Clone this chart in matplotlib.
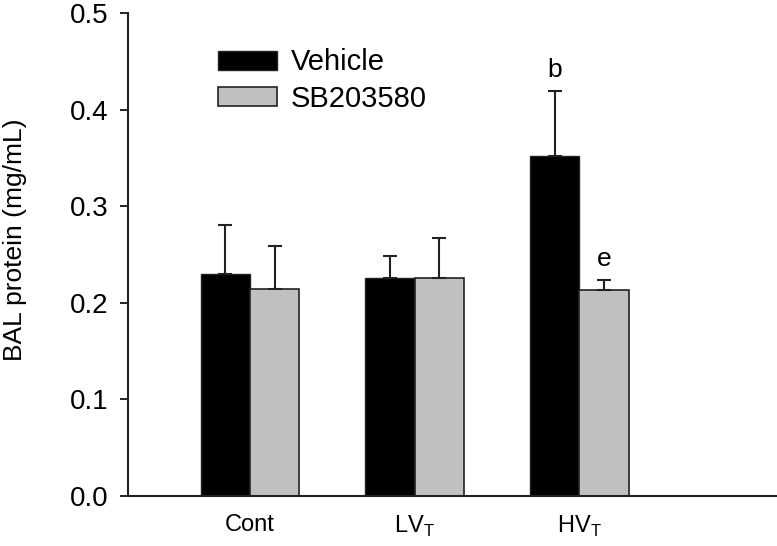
import numpy as np
import matplotlib
matplotlib.use("Agg")
import matplotlib.pyplot as plt

plt.rcParams['font.family'] = ['Liberation Sans', 'DejaVu Sans']
plt.rcParams['mathtext.fontset'] = 'custom'
plt.rcParams['mathtext.rm'] = 'Liberation Sans'

# Gruppen und Messwerte (BAL protein, mg/mL)
groups = ['Cont', r'LV$_\mathregular{T}$', r'HV$_\mathregular{T}$']
vehicle = [0.230, 0.226, 0.352]
vehicle_err = [0.051, 0.022, 0.067]
sb = [0.214, 0.226, 0.213]
sb_err = [0.045, 0.041, 0.010]
series_names = ['Vehicle', 'SB203580']
# Signifikanz-Buchstaben: (Gruppe, Serie, Text)
marks = [(2, 0, 'b'), (2, 1, 'e')]

fig = plt.figure(figsize=(7.77, 5.46), dpi=100)
ax = fig.add_axes([0.165, 0.092, 0.835, 0.884])

x = np.arange(len(groups))
w = 0.30
ax.bar(x - w / 2, vehicle, w, color='black', edgecolor='#222222',
       linewidth=1.0, label=series_names[0])
ax.bar(x + w / 2, sb, w, color='#c0c0c0', edgecolor='#222222',
       linewidth=1.2, label=series_names[1])
ax.errorbar(x - w / 2, vehicle, yerr=[np.zeros(3), vehicle_err], fmt='none',
            ecolor='#222222', elinewidth=1.5, capsize=5, capthick=1.5)
ax.errorbar(x + w / 2, sb, yerr=[np.zeros(3), sb_err], fmt='none',
            ecolor='#222222', elinewidth=1.5, capsize=5, capthick=1.5)

tops = [np.array(vehicle) + np.array(vehicle_err), np.array(sb) + np.array(sb_err)]
for g, s, txt in marks:
    xx = x[g] + (s - 0.5) * w
    ax.text(xx, tops[s][g] + 0.01, txt, ha='center', va='bottom', fontsize=19)

ax.set_xlim(-0.74, 3.2)
ax.set_ylim(0, 0.5)
ax.set_yticks(np.arange(0, 0.51, 0.1))
ax.set_yticklabels(['%.1f' % v for v in np.arange(0, 0.51, 0.1)])
ax.set_xticks(x)
ax.set_xticklabels(groups)
ax.tick_params(axis='y', direction='out', length=6, width=1.2, labelsize=20, pad=8)
ax.tick_params(axis='x', length=0, labelsize=17, pad=13)
fig.text(0.019, 0.56, 'BAL protein (mg/mL)', rotation=90, ha='center',
         va='center', fontsize=19)

for s in ['top', 'right']:
    ax.spines[s].set_visible(False)
for s in ['left', 'bottom']:
    ax.spines[s].set_linewidth(1.5)
    ax.spines[s].set_color('#222222')

ax.legend(loc='upper left', bbox_to_anchor=(0.139, 0.927), frameon=False,
          fontsize=21, handlelength=2.0, handleheight=0.62, labelspacing=0.3,
          handletextpad=0.48, borderpad=0, borderaxespad=0)

fig.savefig('out.png', dpi=100)
